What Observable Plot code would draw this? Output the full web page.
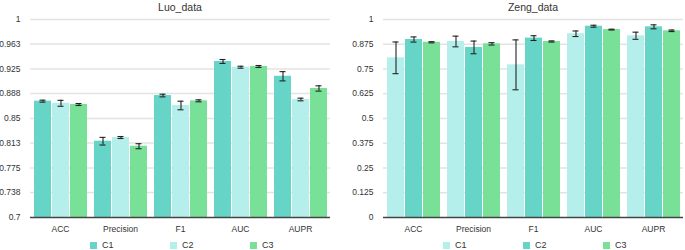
<!DOCTYPE html>
<html>
<head>
<meta charset="utf-8">
<script src="https://cdn.jsdelivr.net/npm/d3@7"></script>
<script src="https://cdn.jsdelivr.net/npm/@observablehq/plot@0.6"></script>
<style>
  body { margin: 0; background: #fff; }
  #root { position: relative; width: 685px; height: 250px; font-family: "Liberation Sans", Arial, Helvetica, sans-serif; color: #333; overflow: hidden; }
  .panel { position: absolute; top: 0; }
  .title { position: absolute; top: 0; font-size: 10.5px; text-align: center; line-height: 14px; color: #333; }
  .legend { position: absolute; top: 239px; display: flex; font-size: 9px; line-height: 12px; }
  .item { width: 80px; display: flex; align-items: center; }
  .sw { width: 7px; height: 7px; margin-right: 5px; }
  svg { position: absolute; top: 0; left: 0; }
</style>
</head>
<body>
<div id="root"></div>
<script>
const metrics = ["ACC", "Precision", "F1", "AUC", "AUPR"];
const seriesNames = ["C1", "C2", "C3"];

// Luo_data
const luoC1 = [0.8763, 0.8156, 0.8848, 0.9364, 0.9140];
const luoC2 = [0.8730, 0.8212, 0.8697, 0.9277, 0.8788];
const luoC3 = [0.8712, 0.8080, 0.8768, 0.9288, 0.8955];
const luoC1Err = [0.0015, 0.0058, 0.0020, 0.0030, 0.0070];
const luoC2Err = [0.0045, 0.0015, 0.0065, 0.0015, 0.0020];
const luoC3Err = [0.0015, 0.0038, 0.0015, 0.0015, 0.0040];
const luoTicks = [0.7, 0.738, 0.775, 0.813, 0.85, 0.888, 0.925, 0.963, 1];

// Zeng_data
const zengC1 = [0.8064, 0.889, 0.771, 0.928, 0.918];
const zengC2 = [0.899, 0.859, 0.906, 0.966, 0.963];
const zengC3 = [0.885, 0.877, 0.889, 0.949, 0.943];
const zengC1Err = [0.080, 0.027, 0.126, 0.014, 0.018];
const zengC2Err = [0.013, 0.032, 0.012, 0.005, 0.010];
const zengC3Err = [0.003, 0.006, 0.003, 0.002, 0.004];
const zengTicks = [0, 0.125, 0.25, 0.375, 0.5, 0.625, 0.75, 0.875, 1];

const teal = "#66d4c7", light = "#b5efec", green = "#78e097";

function buildRows(values, errors) {
  const rows = [];
  metrics.forEach((m, i) => {
    seriesNames.forEach((s, j) => {
      rows.push({metric: m, series: s, value: values[j][i], err: errors[j][i]});
    });
  });
  return rows;
}

function panel({title, values, errors, colors, ticks, left, width, marginLeft, marginRight}) {
  const root = document.getElementById("root");
  const div = document.createElement("div");
  div.className = "panel";
  div.style.left = left + "px";
  div.style.width = width + "px";
  div.style.height = "250px";
  root.appendChild(div);

  const data = buildRows(values, errors);
  const base = ticks[0];
  const chart = Plot.plot({
    width, height: 238,
    marginTop: 19, marginBottom: 21, marginLeft, marginRight,
    style: {fontFamily: '"Liberation Sans", Arial, sans-serif', fontSize: "8.5px", color: "#333", background: "transparent"},
    fx: {domain: metrics, padding: 0, label: null, tickSize: 0, tickPadding: 8},
    x: {domain: seriesNames, axis: null, paddingInner: 0.08, paddingOuter: 0.16},
    y: {domain: [ticks[0], ticks[ticks.length - 1]], ticks: ticks, tickFormat: d => String(d), tickSize: 0, tickPadding: 10, label: null},
    color: {domain: seriesNames, range: colors},
    marks: [
      Plot.ruleY(ticks.slice(1), {stroke: "#e3e3e3", strokeWidth: 1.5}),
      Plot.barY(data, {fx: "metric", x: "series", y1: d => base, y2: "value", fill: "series"}),
      Plot.ruleY([base], {stroke: "#444", strokeWidth: 1.3}),
      Plot.ruleX(data, {fx: "metric", x: "series", y1: d => d.value - d.err, y2: d => d.value + d.err, stroke: "#222", strokeWidth: 1.1}),
      Plot.tickY(data, {fx: "metric", x: "series", y: d => d.value - d.err, insetLeft: 5.5, insetRight: 5.5, stroke: "#222", strokeWidth: 1.1}),
      Plot.tickY(data, {fx: "metric", x: "series", y: d => d.value + d.err, insetLeft: 5.5, insetRight: 5.5, stroke: "#222", strokeWidth: 1.1})
    ]
  });
  div.appendChild(chart);

  const plotLeft = marginLeft, plotRight = width - marginRight;
  const center = (plotLeft + plotRight) / 2;

  const t = document.createElement("div");
  t.className = "title";
  t.textContent = title;
  t.style.left = (center - 60) + "px";
  t.style.width = "120px";
  div.appendChild(t);

  const lg = document.createElement("div");
  lg.className = "legend";
  lg.style.left = (center - 90) + "px";
  seriesNames.forEach((s, j) => {
    const it = document.createElement("div");
    it.className = "item";
    const sw = document.createElement("div");
    sw.className = "sw";
    sw.style.background = colors[j];
    const lab = document.createElement("span");
    lab.textContent = s;
    it.appendChild(sw);
    it.appendChild(lab);
    lg.appendChild(it);
  });
  div.appendChild(lg);
}

panel({
  title: "Luo_data",
  values: [luoC1, luoC2, luoC3],
  errors: [luoC1Err, luoC2Err, luoC3Err],
  colors: [teal, light, green],
  ticks: luoTicks,
  left: 0, width: 340, marginLeft: 30, marginRight: 10
});
panel({
  title: "Zeng_data",
  values: [zengC1, zengC2, zengC3],
  errors: [zengC1Err, zengC2Err, zengC3Err],
  colors: [light, teal, green],
  ticks: zengTicks,
  left: 340, width: 345, marginLeft: 41, marginRight: 0
});
</script>
</body>
</html>
